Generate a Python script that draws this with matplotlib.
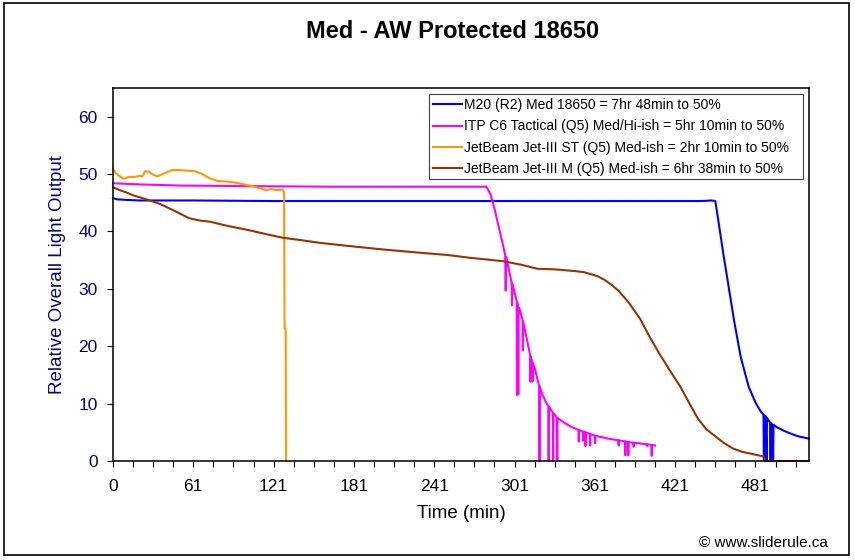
import matplotlib
matplotlib.use("Agg")
import matplotlib.pyplot as plt
from matplotlib.patches import Rectangle

# ── Style ────────────────────────────────────────────────────────────────────
NAVY = "#000080"
plt.rcParams.update({
    "font.family": ["Liberation Sans", "DejaVu Sans"],
    "axes.linewidth": 1.1,
    "axes.edgecolor": "#000000",
})

# ── Data ─────────────────────────────────────────────────────────────────────
m20_t = [0, 3, 10, 20, 60, 120, 200, 300, 400, 440, 447, 450, 452, 454, 456,
         460, 464, 469, 475, 480, 484, 486, 486.3, 486.6, 487.3, 487.6, 488.3,
         488.6, 490, 491, 491.3, 491.6, 492.3, 492.6, 493.2, 493.5, 496, 500,
         506, 512, 520]
m20_v = [45.8, 45.6, 45.5, 45.4, 45.4, 45.3, 45.3, 45.3, 45.3, 45.3, 45.4, 45.3,
         42.3, 39.2, 36.1, 30.3, 24.5, 18.1, 12.9, 10.2, 8.6, 8.1, 0.2, 7.9,
         0.5, 7.8, 0.0, 7.5, 7.0, 6.7, 0.0, 6.6, 0.0, 6.4, 0.3, 6.3, 5.9, 5.4,
         4.8, 4.3, 3.9]

# ITP C6: the knee, then the noisy tail with downward spikes
itp_t = [0, 20, 50, 100, 165, 220, 279, 282, 285, 288,
         291, 293.0, 293.4, 293.8, 295, 297, 297.8, 298.1, 298.4, 300,
         301.6, 301.8, 302.0, 302.6, 302.8, 303.0, 304, 306, 306.2, 306.4,
         308, 311.7, 311.9, 312.1, 313.3, 313.5, 313.7, 315, 318, 318.5,
         318.7, 318.9, 321, 324, 325.3, 325.5, 325.7, 328.6, 328.9, 329.1,
         331.6, 331.9, 332.1, 337, 342, 347.8, 348.0, 348.2, 351.3, 351.5,
         351.7, 352.8, 353.0, 353.2, 356.3, 356.5, 356.7, 360, 360.2, 360.4,
         370, 377.6, 377.8, 378.0, 382.6, 382.8, 383.0, 384.8, 385.0, 385.2,
         388.8, 389.0, 389.2, 398.8, 399.0, 399.2, 402.3, 402.5, 402.7, 405]
itp_v = [48.4, 48.2, 48.0, 47.9, 47.8, 47.8, 47.8, 46.5, 44.0, 41.0,
         38.0, 35.9, 29.7, 35.5, 34.2, 32.0, 31.1, 27.1, 30.9, 29.5,
         27.8, 11.5, 27.6, 27.0, 11.6, 26.8, 26.3, 24.5, 19.3, 24.3,
         22.6, 18.4, 13.8, 18.2, 17.2, 13.9, 17.0, 16.3, 13.4, 13.0,
         0.0, 12.9, 11.5, 10.0, 9.6, 0.0, 9.5, 8.4, 0.0, 8.3,
         7.6, 0.0, 7.5, 6.7, 6.0, 5.4, 3.4, 5.4, 5.1, 3.5,
         5.1, 5.0, 2.6, 5.0, 4.7, 2.7, 4.7, 4.4, 3.1, 4.4,
         3.9, 3.6, 2.7, 3.6, 3.4, 1.0, 3.4, 3.3, 1.0, 3.3,
         3.2, 2.5, 3.2, 2.9, 2.6, 2.9, 2.8, 0.9, 2.8, 2.7]

st_t = [0, 2, 5, 8, 12, 16, 20, 22, 24, 27, 30, 33, 37, 41, 44, 50, 55, 61, 66,
        72, 78, 85, 92, 98, 104, 110, 114, 118, 122, 127, 127.8, 128.2, 129.0,
        129.3]
st_v = [50.9, 50.2, 49.6, 49.2, 49.5, 49.5, 49.7, 49.6, 50.5, 50.4, 49.9, 49.6,
        50.0, 50.4, 50.7, 50.7, 50.6, 50.5, 50.1, 49.3, 48.8, 48.7, 48.5, 48.2,
        47.9, 47.5, 47.2, 47.4, 47.2, 47.3, 46.8, 23.1, 23.0, 0.0]

jm_t = [0, 5, 10, 15, 25, 35, 45, 57, 65, 72.5, 85, 102, 115, 127, 140, 155,
        175, 200, 229, 250, 267, 280, 292, 305, 317, 330, 345, 352, 358, 362,
        367, 372, 378, 386, 394, 401, 409, 416, 424, 430, 437, 443, 450, 456,
        463, 470, 476, 482, 486, 487.5, 520]
jm_v = [47.7, 47.2, 46.8, 46.3, 45.6, 44.8, 43.7, 42.3, 41.9, 41.7, 41.0, 40.2,
        39.5, 38.9, 38.5, 38.0, 37.5, 36.9, 36.3, 35.9, 35.4, 35.1, 34.8, 34.2,
        33.5, 33.4, 33.1, 32.9, 32.5, 32.2, 31.6, 30.8, 29.6, 27.4, 24.7, 21.6,
        18.4, 15.8, 12.9, 10.3, 7.4, 5.6, 4.3, 3.2, 2.2, 1.6, 1.3, 1.0, 0.8,
        0.0, 0.0]

series_labels = [
    "M20 (R2) Med 18650 = 7hr 48min to 50%",
    "ITP C6 Tactical (Q5) Med/Hi-ish = 5hr 10min to 50%",
    "JetBeam Jet-III ST (Q5) Med-ish = 2hr 10min to 50%",
    "JetBeam Jet-III M (Q5) Med-ish = 6hr 38min to 50%",
]
series_colors = ["#0000FF", "#FF00FF", "#FF9900", "#993300"]

x_label_pos = [0, 60, 120, 180, 240, 300, 360, 420, 480]
x_label_txt = ["0", "61", "121", "181", "241", "301", "361", "421", "481"]
y_ticks = [0, 10, 20, 30, 40, 50, 60]

# ── Figure ───────────────────────────────────────────────────────────────────
fig = plt.figure(figsize=(8.55, 5.6), dpi=100)
ax = fig.add_axes([113 / 855, 1 - 461 / 560, 696 / 855, 373 / 560])

for t, v, lab, col in zip([m20_t, itp_t, st_t, jm_t], [m20_v, itp_v, st_v, jm_v],
                          series_labels, series_colors):
    ax.plot(t, v, color=col, linewidth=1.5, label=lab, clip_on=False)

ax.set_xlim(0, 520)
ax.set_ylim(0, 65)
ax.set_xticks(x_label_pos)
ax.set_xticklabels(x_label_txt)
ax.set_xticks([m for m in range(0, 520, 15)], minor=True)
ax.set_yticks(y_ticks)
ax.tick_params(axis="x", which="both", direction="out", length=4.3, width=0.8,
               pad=8.5, labelsize=12.5, colors="#000000")
ax.tick_params(axis="y", direction="out", length=4.1, width=0.8, pad=7,
               labelsize=12.5, labelcolor=NAVY)

ax.set_xlabel("Time (min)", fontsize=13.5, labelpad=8)
ax.set_ylabel("Relative Overall Light Output", fontsize=13.5, color=NAVY, labelpad=9)

# legend text without its own frame; Excel-style box drawn separately
ax.legend(loc="upper left", bbox_to_anchor=(0.454, 0.984), borderaxespad=0,
          fontsize=10, frameon=False, borderpad=0.3, handlelength=2.1,
          handletextpad=0.15, labelspacing=0.53)
ax.add_patch(Rectangle((0.454, 0.756), 0.537, 0.228, transform=ax.transAxes,
                       facecolor="white", edgecolor="#404040", linewidth=0.8,
                       zorder=4.5))

fig.text(453 / 855, 1 - 32 / 560, "Med - AW Protected 18650", ha="center",
         va="center", fontsize=17, fontweight="bold")
fig.text(828 / 855, 1 - 543 / 560, "\u00a9 www.sliderule.ca", ha="right",
         va="center", fontsize=11)

fig.patches.append(Rectangle((4 / 855, 5 / 560), 845 / 855, 552 / 560,
                             transform=fig.transFigure, fill=False,
                             edgecolor="#000000", linewidth=1.2))

fig.savefig("out.png", dpi=100)
